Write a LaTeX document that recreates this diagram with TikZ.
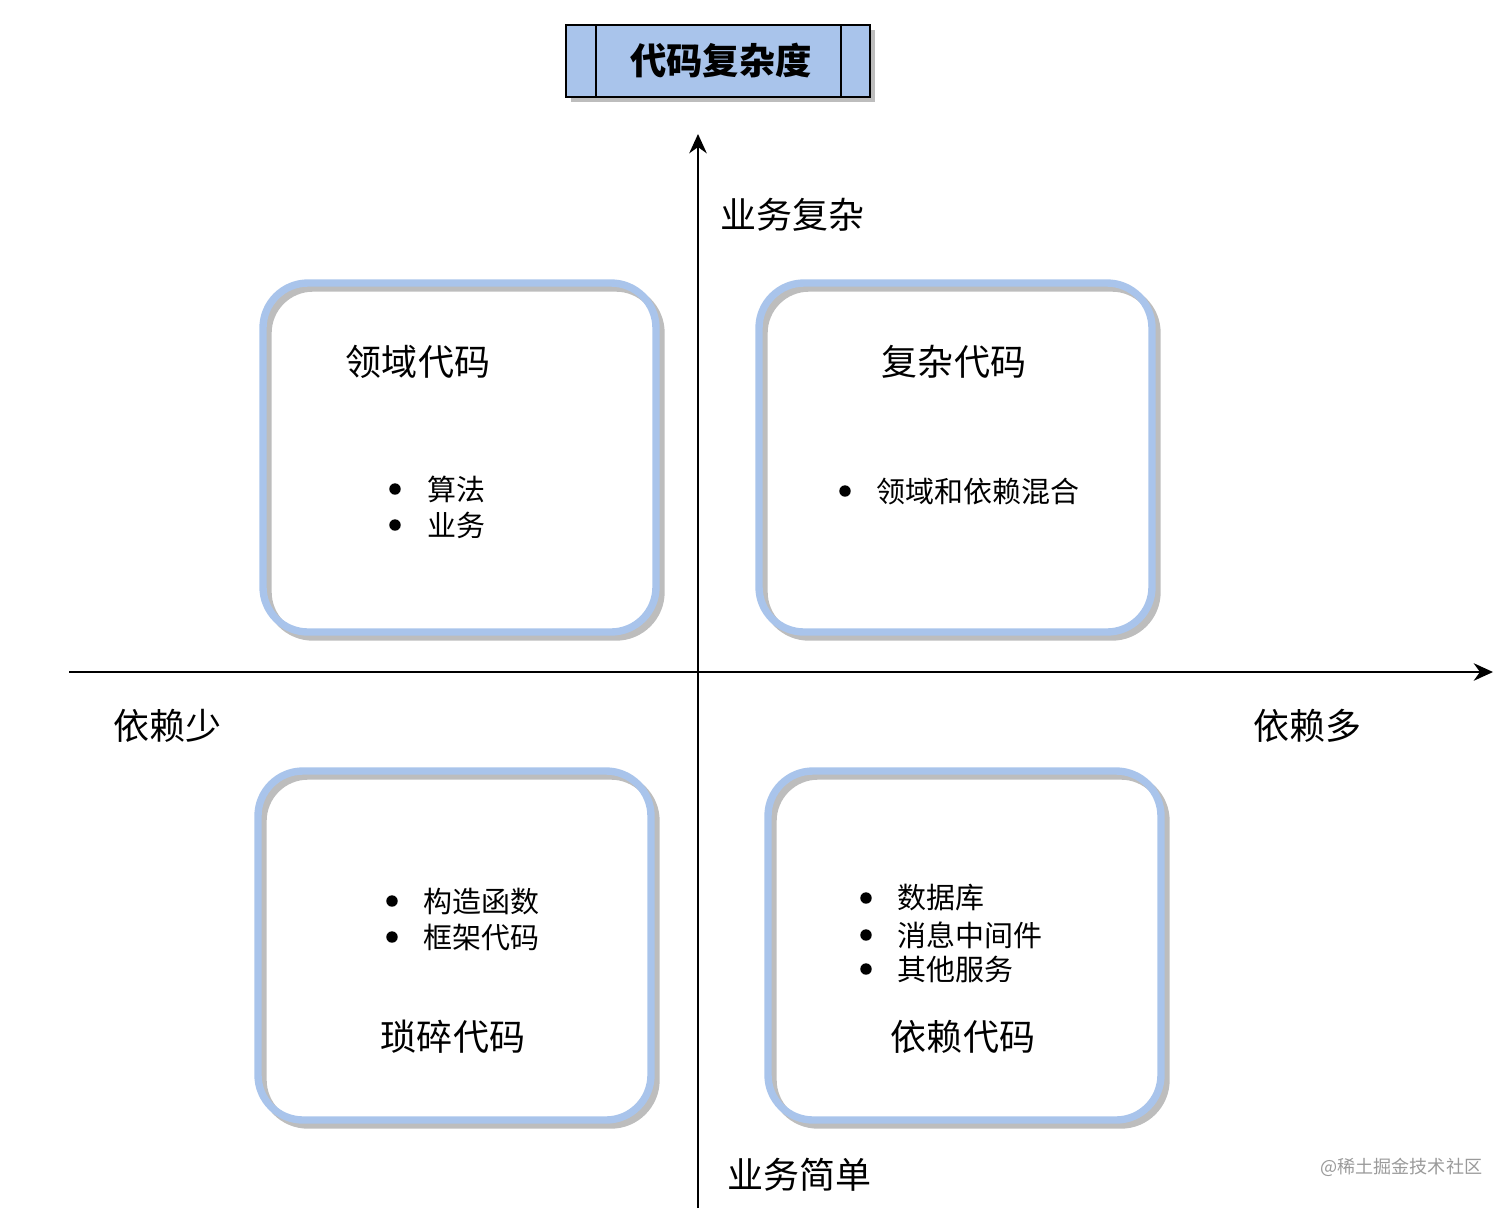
\documentclass[tikz,border=0pt]{standalone}
\usepackage{fontspec}
\setmainfont{Noto Sans CJK SC}
\usetikzlibrary{arrows.meta}
\definecolor{boxblue}{HTML}{A9C4EB}
\definecolor{shadowgray}{HTML}{BDBDBD}
\definecolor{wmgray}{HTML}{9A9A9A}
\tikzset{
  px/.style={x=0.02cm,y=-0.02cm},
  quad/.style={draw=boxblue,line width=4.2pt,rounded corners=0.9cm},
  quadshadow/.style={draw=shadowgray,line width=4.2pt,rounded corners=0.9cm},
  axis/.style={line width=1.1pt,-{Stealth[length=11pt,width=10pt]}},
  axlabel/.style={font=\fontsize{20.5pt}{24pt}\selectfont,inner sep=0pt},
  qtitle/.style={font=\fontsize{20.5pt}{24pt}\selectfont,inner sep=0pt},
  bul/.style={font=\fontsize{16.5pt}{20pt}\selectfont,inner sep=0pt,anchor=west},
  dot/.style={circle,fill=black,inner sep=0pt,minimum size=6.5pt},
}
\begin{document}
\begin{tikzpicture}[px]
\useasboundingbox (0,0) rectangle (1512,1208);
% title
\fill[shadowgray] (571,30) rectangle (875,102);
\draw[line width=1.3pt,fill=boxblue] (566,25) rectangle (870,97);
\draw[line width=1.3pt] (596,25) -- (596,97) (841,25) -- (841,97);
\node[font=\bfseries\fontsize{20.7pt}{24pt}\selectfont,inner sep=0pt] (title) at (721,61) {代码复杂度};
% axes
\coordinate (ybot) at (698,1208);
\coordinate (ytop) at (698,134);
\coordinate (xl) at (69,672);
\coordinate (xr) at (1493,672);
\draw[axis] (ybot) -- (ytop);
\draw[axis] (xl) -- (xr);
% axis labels
\node[axlabel,anchor=west] (ltop) at (720,215) {业务复杂};
\node[axlabel,anchor=west] (lleft) at (113,726) {依赖少};
\node[axlabel,anchor=west] (lright) at (1253,726) {依赖多};
\node[axlabel,anchor=west] (lbot) at (727,1175) {业务简单};
% quadrant boxes
\draw[quadshadow] (268,288) rectangle (661,637);
\draw[quad] (263,283) rectangle (656,632);
\draw[quadshadow] (764,288) rectangle (1157,637);
\draw[quad] (759,283) rectangle (1152,632);
\draw[quadshadow] (263,776) rectangle (656,1125);
\draw[quad] (258,771) rectangle (651,1120);
\draw[quadshadow] (773,776) rectangle (1166,1125);
\draw[quad] (768,771) rectangle (1161,1120);
% TL
\node[qtitle] (t1) at (418,362) {领域代码};
\node[dot] (d11) at (395,489) {};
\node[bul] (b11) at (427,489) {算法};
\node[dot] (d12) at (395,525) {};
\node[bul] (b12) at (427,525) {业务};
% TR
\node[qtitle] (t2) at (954,362) {复杂代码};
\node[dot] (d21) at (845,491) {};
\node[bul] (b21) at (876,491) {领域和依赖混合};
% BL
\node[dot] (d31) at (392,901) {};
\node[bul] (b31) at (423,901) {构造函数};
\node[dot] (d32) at (392,937) {};
\node[bul] (b32) at (423,937) {框架代码};
\node[qtitle] (t3) at (453,1037) {琐碎代码};
% BR
\node[dot] (d41) at (866,898) {};
\node[bul] (b41) at (897,898) {数据库};
\node[dot] (d42) at (866,935) {};
\node[bul] (b42) at (897,935) {消息中间件};
\node[dot] (d43) at (866,969) {};
\node[bul] (b43) at (897,969) {其他服务};
\node[qtitle] (t4) at (963,1037) {依赖代码};
% watermark
\node[font=\fontsize{10.3pt}{12pt}\selectfont,text=wmgray,inner sep=0pt,anchor=west] (wm) at (1320,1167) {@稀土掘金技术社区};
\end{tikzpicture}
\end{document}
